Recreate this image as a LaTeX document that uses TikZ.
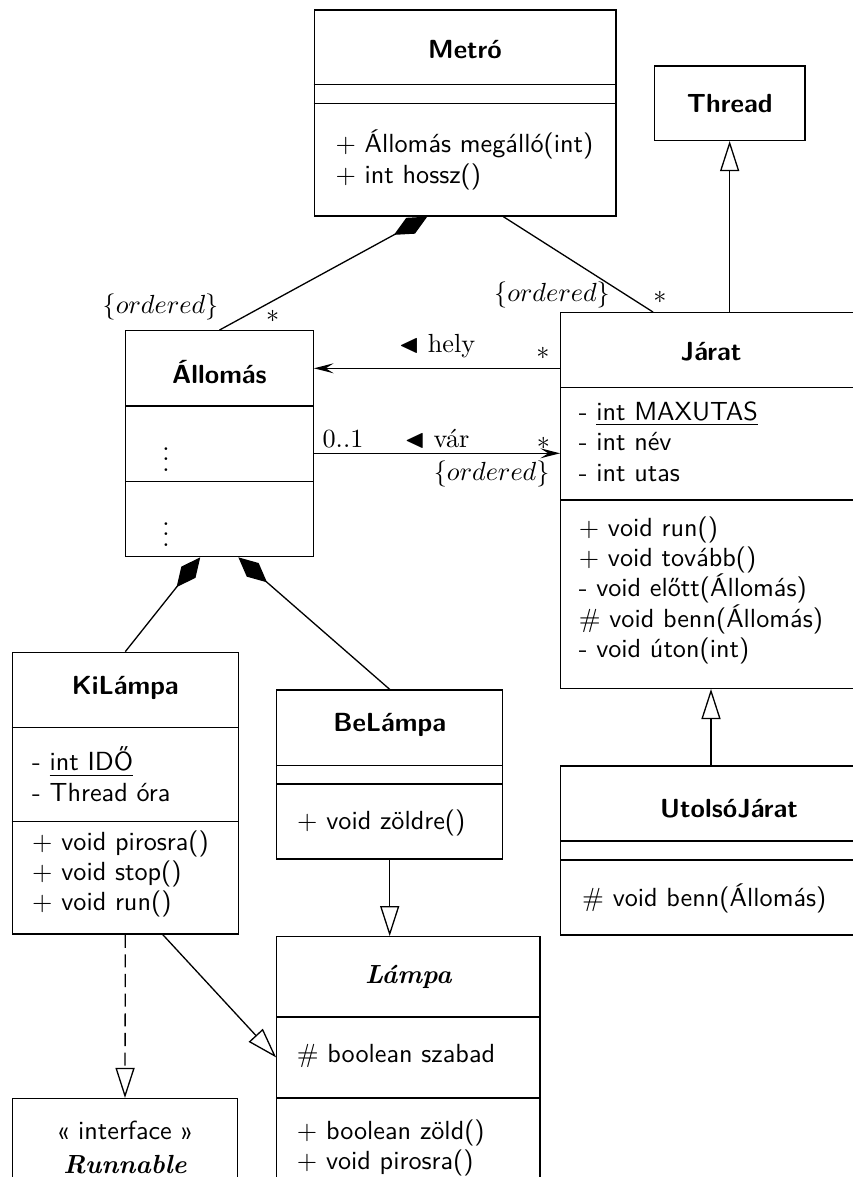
\documentclass[tikz,border=0pt]{standalone}
\usepackage{amssymb}
\usetikzlibrary{arrows.meta,calc,fit}

% divider line across a class box at height #2
\newcommand\cdivide[2]{\draw[sepline] (#1.west |- 0,#2) -- (#1.east |- 0,#2);}

\tikzset{
  px/.style={x=0.3817pt,y=-0.3817pt},
  classbox/.style={draw, line width=0.5pt, fill=white, inner sep=0pt},
  sepline/.style={line width=0.5pt},
  ctitle/.style={font=\sffamily\bfseries, inner sep=0pt},
  members/.style={font=\sffamily\fontsize{10}{11.6}\selectfont, align=left, anchor=west, inner sep=0pt},
  lbl/.style={inner sep=0pt},
  conn/.style={line width=0.5pt},
  comp/.style={conn, {Diamond[length=14.5pt,width=6.9pt]}-},
  gen/.style={conn, -{Triangle[open,fill=white,length=11.5pt,width=7.3pt]}},
  real/.style={gen, dash pattern=on 5pt off 2.5pt},
  assoc/.style={conn, -{Stealth[length=7.5pt,width=3.8pt,inset=3pt]}},
}

\begin{document}
\begin{tikzpicture}[px]
\useasboundingbox (0,0) rectangle (853,1177);
\clip (0,0) rectangle (853,1177);

% Metró
\node[classbox, fit={(314.3,10) (616,216)}] (metro) {};
\cdivide{metro}{84.3}\cdivide{metro}{103.3}
\node[ctitle] (metroT) at (465,50) {Metró};
\node[members] (metroM) at (335,160) {$+$ Állomás megálló(int)\\$+$ int hossz()};

% Thread
\node[classbox, fit={(654.3,66) (805,140.3)}] (thread) {};
\node[ctitle] (threadT) at (729.7,104) {Thread};

% Járat
\node[classbox, fit={(560.7,312.7) (861.3,688.3)}] (jarat) {};
\cdivide{jarat}{387.3}\cdivide{jarat}{500}
\node[ctitle] (jaratT) at (711,351.7) {Járat};
\node[members] (jaratA) at (578.3,441.7) {- \underline{int MAXUTAS}\\- int név\\- int utas};
\node[members] (jaratM) at (578.3,590.3) {$+$ void run()\\$+$ void tovább()\\- void előtt(Állomás)\\$\#$ void benn(Állomás)\\- void úton(int)};

% Állomás
\node[classbox, fit={(125.7,330.7) (313.3,556.7)}] (allomas) {};
\cdivide{allomas}{406}\cdivide{allomas}{481.7}
\node[ctitle] (allomasT) at (219.5,371.7) {Állomás};
\node[lbl] (allomasA) at (166,451.7) {$\vdots$};
\node[lbl] (allomasM) at (166,526.7) {$\vdots$};

% KiLámpa
\node[classbox, fit={(12.3,652.3) (238.3,934)}] (kilampa) {};
\cdivide{kilampa}{727.3}\cdivide{kilampa}{821.7}
\node[ctitle] (kilampaT) at (125.3,688.3) {KiLámpa};
\node[members] (kilampaA) at (31.7,774.2) {- \underline{int IDŐ}\\- Thread óra};
\node[members] (kilampaM) at (31.7,874) {$+$ void pirosra()\\$+$ void stop()\\$+$ void run()};

% BeLámpa
\node[classbox, fit={(276.7,690) (502.7,859)}] (belampa) {};
\cdivide{belampa}{765.3}\cdivide{belampa}{784}
\node[ctitle] (belampaT) at (389.7,725) {BeLámpa};
\node[members] (belampaM) at (296.7,823.3) {$+$ void zöldre()};

% Lámpa
\node[classbox, fit={(276.8,936.8) (540,1178)}] (lampa) {};
\cdivide{lampa}{1017}\cdivide{lampa}{1097.9}
\node[lbl, font=\rmfamily\bfseries\itshape] (lampaT) at (408.4,977) {Lámpa};
\node[members] (lampaA) at (296.4,1055.7) {$\#$ boolean szabad};
\node[members] (lampaM) at (296.4,1148.2) {$+$ boolean zöld()\\$+$ void pirosra()};

% Runnable
\node[classbox, fit={(12.5,1098.6) (237.5,1195)}] (runnable) {};
\node[lbl, font=\sffamily] (runnableS) at (125,1130.7) {« interface »};
\node[lbl, font=\rmfamily\bfseries\itshape] (runnableT) at (125,1164.6) {Runnable};

% UtolsóJárat
\node[classbox, fit={(560.7,766) (897.3,935)}] (utolso) {};
\cdivide{utolso}{841}\cdivide{utolso}{860}
\node[ctitle] (utolsoT) at (729,808.3) {UtolsóJárat};
\node[members] (utolsoM) at (581.7,898.3) {$\#$ void benn(Állomás)};

% associations and compositions
\draw[comp] ($(metro.south west)!0.375!(metro.south east)$) -- (allomas.north);
\draw[conn] ($(metro.south west)!0.626!(metro.south east)$) -- ($(jarat.north west)!0.308!(jarat.north east)$);
\draw[assoc] (jarat.west |- 0,368.3) -- (allomas.east |- 0,368.3);
\draw[assoc] (allomas.east |- 0,453.3) -- (jarat.west |- 0,453.3);
\draw[comp] ($(allomas.south west)!0.398!(allomas.south east)$) -- (kilampa.north);
\draw[comp] ($(allomas.south west)!0.6!(allomas.south east)$) -- (belampa.north);

% generalizations and realization
\draw[gen] (jarat.north -| thread.south) -- (thread.south);
\draw[gen] (utolso.north -| jarat.south) -- (jarat.south);
\draw[gen] (belampa.south) -- (belampa.south |- lampa.north);
\draw[gen] ($(kilampa.south west)!0.665!(kilampa.south east)$) -- (lampa.west);
\draw[real] (kilampa.south) -- (runnable.north);

% role names and multiplicities
\node[lbl] (ordA) at (160.5,306.7) {$\{ordered\}$};
\node[lbl] (multA) at (272.7,316) {$*$};
\node[lbl] (ordJ) at (552,295) {$\{ordered\}$};
\node[lbl] (multJ) at (660,297.3) {$*$};
\node[lbl] (hely) at (437,346) {$\blacktriangleleft$ hely};
\node[lbl] (helyM) at (543,353) {$*$};
\node[lbl, anchor=base] (varA) at (343,447.5) {0..1};
\node[lbl, anchor=base] (var) at (437,447.5) {$\blacktriangleleft$ vár};
\node[lbl] (varM) at (543.3,443.5) {$*$};
\node[lbl] (varO) at (491.7,474) {$\{ordered\}$};
\end{tikzpicture}
\end{document}
